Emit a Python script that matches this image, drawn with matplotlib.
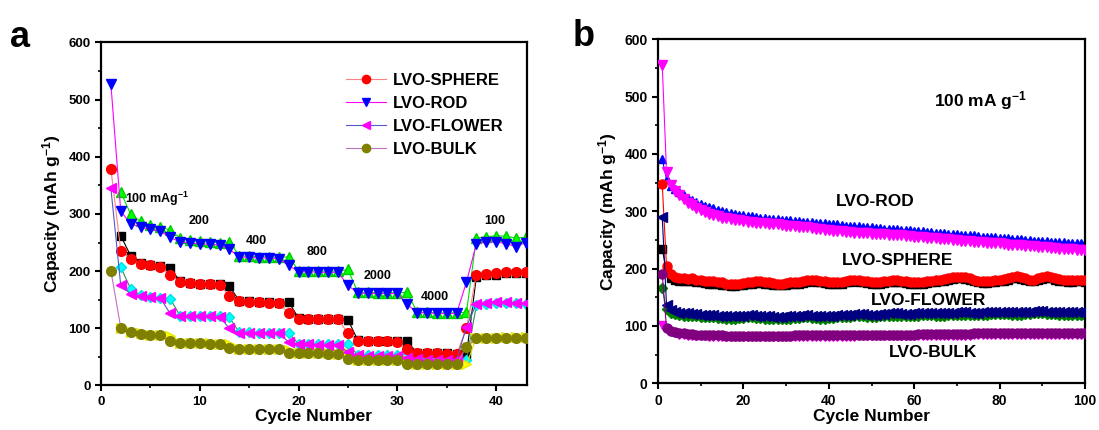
import numpy as np
import matplotlib
matplotlib.use('Agg')
import matplotlib.pyplot as plt

plt.rcParams['font.family'] = ['Liberation Sans', 'DejaVu Sans']
plt.rcParams['font.weight'] = 'bold'
plt.rcParams['mathtext.fontset'] = 'custom'
plt.rcParams['mathtext.rm'] = 'Liberation Sans:bold'
plt.rcParams['mathtext.bf'] = 'Liberation Sans:bold'
plt.rcParams['mathtext.default'] = 'bf'

nan = np.nan

# ---- panel a : rate capability (cycles 1-43) ----
cyc_a = np.arange(1, 44)
sph_dis = [379, 236, 222, 213, 210, 208, 194, 181, 179, 178, 177, 176,
           157, 147, 146, 146, 145, 145, 126, 117, 117, 116, 116, 116,
           91, 78, 77, 77, 77, 76, 63, 57, 56, 56, 55, 55,
           100, 194, 195, 196, 199, 198, 198]
sph_chg = [nan, 262, 227, 215, 211, 209, 206, 182, 180, 178, 177, 177,
           174, 148, 147, 146, 146, 145, 146, 118, 117, 117, 116, 116,
           115, 79, 78, 77, 77, 77, 77, 57, 56, 56, 56, 55,
           54, 190, 193, 194, 196, 196, 196]
rod_dis = [527, 305, 283, 277, 273, 270, 259, 251, 249, 248, 247, 246,
           238, 225, 224, 223, 223, 222, 210, 199, 199, 198, 198, 198,
           175, 162, 161, 161, 161, 161, 142, 127, 127, 126, 126, 126,
           181, 248, 251, 251, 248, 243, 250]
rod_chg = [nan, 338, 300, 287, 281, 277, 272, 258, 254, 252, 251, 250,
           251, 227, 226, 225, 225, 224, 225, 201, 201, 200, 200, 200,
           203, 163, 163, 162, 162, 162, 163, 128, 128, 127, 127, 127,
           128, 258, 260, 262, 261, 258, 259]
flw_dis = [345, 175, 160, 157, 154, 153, 126, 121, 121, 121, 121, 120,
           100, 92, 92, 92, 91, 91, 76, 72, 72, 71, 71, 71,
           58, 53, 52, 52, 52, 52, 48, 46, 45, 45, 45, 45,
           103, 143, 145, 146, 146, 145, 144]
flw_chg = [nan, 207, 169, 158, 155, 153, 152, 122, 122, 121, 121, 121,
           119, 93, 93, 92, 92, 92, 92, 73, 73, 72, 72, 72,
           72, 54, 54, 53, 53, 53, 53, 46, 46, 45, 45, 45,
           45, 140, 143, 144, 145, 144, 142]
blk_dis = [201, 101, 93, 90, 89, 88, 78, 75, 74, 74, 73, 73,
           66, 64, 64, 63, 63, 63, 57, 56, 56, 56, 55, 55,
           47, 45, 44, 44, 44, 44, 38, 37, 37, 37, 37, 37,
           68, 83, 83, 83, 83, 83, 83]
blk_chg = [nan, 101, 94, 91, 89, 88, 87, 75, 74, 74, 74, 73,
           73, 64, 64, 64, 63, 63, 62, 56, 56, 56, 56, 55,
           56, 45, 45, 44, 44, 44, 45, 37, 37, 37, 37, 37,
           37, 83, 83, 83, 84, 84, 84]

rate_labels = ['100 mAg$^{-1}$', '200', '400', '800', '2000', '4000', '100']
rate_x = [2.4, 9.9, 15.7, 21.9, 28.0, 33.8, 39.9]
rate_y = [326, 287, 253, 233, 192, 154, 288]

# ---- panel b : cycling at 100 mA/g (cycles 1-100) ----
cyc_b = np.arange(1, 101)
rod_dis_b = [555, 369, 346, 336, 328, 321, 315, 311, 306, 302,
             299, 296, 293, 291, 289, 288, 286, 285, 284, 283,
             282, 281, 280, 279, 279, 278, 277, 277, 276, 275,
             275, 274, 273, 273, 272, 271, 270, 269, 268, 267,
             266, 266, 265, 264, 264, 263, 263, 262, 262, 261,
             261, 260, 260, 259, 259, 258, 258, 257, 257, 256,
             255, 255, 254, 253, 253, 252, 251, 251, 250, 250,
             249, 248, 248, 247, 247, 246, 245, 245, 244, 244,
             243, 242, 242, 241, 241, 240, 239, 239, 238, 238,
             237, 236, 236, 235, 235, 234, 234, 233, 233, 232]
rod_chg_b = [391, 356, 345, 339, 333, 328, 324, 320, 316, 313,
             310, 307, 305, 303, 301, 299, 297, 296, 294, 293,
             292, 291, 290, 289, 288, 287, 287, 286, 285, 285,
             284, 283, 283, 282, 281, 281, 280, 279, 279, 278,
             277, 277, 276, 275, 275, 274, 274, 273, 273, 272,
             271, 271, 270, 270, 269, 269, 268, 267, 267, 266,
             265, 265, 264, 264, 263, 262, 262, 261, 261, 260,
             259, 259, 258, 258, 257, 256, 256, 255, 255, 254,
             253, 253, 252, 252, 251, 250, 250, 249, 249, 248,
             248, 247, 247, 246, 246, 245, 245, 245, 244, 244]
sph_dis_b = [347, 204, 190, 186, 184, 183, 182, 183, 181, 180,
             179, 178, 178, 177, 176, 174, 173, 173, 174, 175,
             176, 177, 178, 178, 177, 176, 175, 174, 174, 175,
             176, 176, 177, 178, 180, 181, 180, 179, 178, 177,
             176, 176, 177, 179, 180, 181, 180, 179, 178, 177,
             177, 177, 178, 179, 180, 180, 179, 178, 177, 176,
             176, 177, 178, 179, 180, 181, 182, 184, 185, 186,
             186, 185, 183, 181, 179, 178, 178, 179, 180, 181,
             182, 184, 186, 187, 185, 183, 181, 181, 183, 185,
             187, 186, 184, 182, 181, 180, 180, 181, 181, 180]
sph_chg_b = [234, 196, 184, 181, 179, 178, 178, 179, 177, 176,
             175, 174, 174, 173, 172, 171, 170, 170, 171, 172,
             173, 174, 175, 175, 174, 173, 172, 171, 171, 172,
             173, 173, 174, 175, 177, 178, 177, 176, 175, 174,
             173, 173, 174, 176, 177, 178, 177, 176, 175, 174,
             174, 174, 175, 176, 177, 177, 176, 175, 174, 173,
             173, 174, 175, 176, 177, 178, 179, 181, 182, 183,
             183, 182, 180, 178, 176, 175, 175, 176, 177, 178,
             179, 181, 183, 184, 182, 180, 178, 178, 180, 182,
             184, 183, 181, 179, 178, 177, 177, 178, 178, 177]
flw_dis_b = [290, 137, 128, 125, 123, 122, 122, 121, 121, 120,
             120, 119, 119, 118, 118, 117, 117, 117, 118, 118,
             119, 119, 118, 118, 117, 117, 116, 116, 116, 117,
             117, 118, 118, 119, 119, 118, 118, 117, 117, 118,
             118, 119, 119, 120, 120, 121, 121, 121, 120, 120,
             120, 121, 121, 122, 122, 122, 121, 121, 121, 122,
             122, 123, 123, 123, 122, 122, 122, 123, 123, 124,
             124, 124, 123, 123, 123, 124, 124, 125, 125, 125,
             125, 125, 124, 124, 124, 125, 125, 126, 126, 126,
             125, 125, 125, 124, 124, 124, 124, 124, 124, 124]
flw_chg_b = [166, 129, 123, 121, 119, 118, 118, 117, 117, 116,
             116, 115, 115, 114, 114, 113, 113, 113, 114, 114,
             115, 115, 114, 114, 113, 113, 112, 112, 112, 113,
             113, 114, 114, 115, 115, 114, 114, 113, 113, 114,
             114, 115, 115, 116, 116, 117, 117, 117, 116, 116,
             116, 117, 117, 118, 118, 118, 117, 117, 117, 118,
             118, 119, 119, 119, 118, 118, 118, 119, 119, 120,
             120, 120, 119, 119, 119, 120, 120, 121, 121, 121,
             121, 121, 120, 120, 120, 121, 121, 122, 122, 122,
             121, 121, 121, 120, 120, 120, 120, 120, 120, 120]
blk_dis_b = [191, 96, 92, 90, 88, 87, 86, 86, 85, 85,
             85, 84, 84, 84, 84, 83, 83, 83, 83, 83,
             83, 83, 83, 83, 83, 83, 83, 83, 83, 83,
             83, 84, 84, 84, 84, 84, 84, 84, 84, 84,
             84, 84, 84, 84, 84, 84, 85, 85, 85, 85,
             85, 85, 85, 85, 85, 85, 85, 85, 85, 85,
             86, 86, 86, 86, 86, 86, 86, 86, 86, 86,
             86, 86, 86, 87, 87, 87, 87, 87, 87, 87,
             87, 87, 87, 87, 87, 87, 87, 87, 87, 87,
             87, 87, 87, 87, 87, 87, 87, 87, 87, 87]
blk_chg_b = [101, 94, 89, 87, 85, 84, 83, 83, 82, 82,
             82, 81, 81, 81, 81, 80, 80, 80, 80, 80,
             80, 80, 80, 80, 80, 80, 80, 80, 80, 80,
             80, 81, 81, 81, 81, 81, 81, 81, 81, 81,
             81, 81, 81, 81, 81, 81, 82, 82, 82, 82,
             82, 82, 82, 82, 82, 82, 82, 82, 82, 82,
             83, 83, 83, 83, 83, 83, 83, 83, 83, 83,
             83, 83, 83, 84, 84, 84, 84, 84, 84, 84,
             84, 84, 84, 84, 84, 84, 84, 84, 84, 84,
             84, 84, 84, 84, 84, 84, 84, 84, 84, 84]

names = ['LVO-SPHERE', 'LVO-ROD', 'LVO-FLOWER', 'LVO-BULK']
name_x = [56.2, 50.8, 63.3, 64.4]
name_y = [215, 317, 145, 53]

fig = plt.figure(figsize=(10.99, 4.30), dpi=100)
ax1 = fig.add_axes([0.0919, 0.1035, 0.3874, 0.7977])
ax2 = fig.add_axes([0.5987, 0.1086, 0.3886, 0.8000])

def style(ax, lsize):
    for s in ax.spines.values():
        s.set_linewidth(1.6)
    ax.tick_params(which='major', direction='out', length=4, width=1.5,
                   labelsize=lsize, top=False, right=False)
    ax.tick_params(which='minor', direction='out', length=2.5, width=1.2,
                   top=False, right=False)
    for lab in ax.get_xticklabels() + ax.get_yticklabels():
        lab.set_fontweight('bold')
    ax.set_xlabel('Cycle Number', fontsize=12.5, fontweight='bold', labelpad=1)
    ax.set_ylabel('Capacity (mAh g$^{-1}$)', fontsize=12.5, fontweight='bold')

# panel a: secondary (charge) series drawn behind
ms = 7
ax1.plot(cyc_a, sph_chg, '-s', color='black', ms=ms - 1, lw=0.8, zorder=2)
ax1.plot(cyc_a, rod_chg, '-^', color='#00dd00', mfc='#00ff00', mec='#00cc00', ms=ms, lw=0.8, zorder=2)
ax1.plot(cyc_a, flw_chg, '-D', color='#2e8b57', mfc='#00ffff', mec='#00e0e0', ms=ms - 1.5, lw=0.8, zorder=2)
ax1.plot(cyc_a, blk_chg, '->', color='#e0e000', mfc='#ffff00', mec='#e8e800', ms=ms, lw=0.8, zorder=2)

ax1.plot(cyc_a, sph_dis, '-o', color='#ff8080', mfc='red', mec='red', ms=ms, lw=0.8, zorder=3, label=names[0])
ax1.plot(cyc_a, rod_dis, '-v', color='#ff00ff', mfc='blue', mec='blue', ms=ms, lw=0.8, zorder=3, label=names[1])
ax1.plot(cyc_a, flw_dis, '-<', color='#5555cc', mfc='#ff00ff', mec='#ff00ff', ms=ms, lw=0.8, zorder=3, label=names[2])
ax1.plot(cyc_a, blk_dis, '-o', color='#c070c0', mfc='#808000', mec='#808000', ms=ms, lw=0.8, zorder=3, label=names[3])

for t, x, y in zip(rate_labels, rate_x, rate_y):
    ax1.text(x, y, t, fontsize=9, fontweight='bold',
             ha='left' if t.startswith('100 m') else 'center', va='center')

ax1.set_xlim(0, 43.1)
ax1.set_ylim(0, 600)
ax1.set_xticks([0, 10, 20, 30, 40])
ax1.set_xticks([5, 15, 25, 35], minor=True)
ax1.set_yticks(np.arange(0, 601, 100))
ax1.set_yticks(np.arange(50, 600, 100), minor=True)
style(ax1, 9.5)
ax1.legend(loc='upper left', bbox_to_anchor=(0.54, 0.955), frameon=False,
           fontsize=12, handlelength=2.4, handletextpad=0.4, labelspacing=0.48,
           markerscale=0.85)

# panel b
mb = 6
ax2.plot(cyc_b, rod_chg_b, '-^', color='blue', ms=mb, lw=0.8, zorder=2)
ax2.plot(cyc_b, rod_dis_b, '-v', color='#ff00ff', ms=mb + 0.5, lw=0.8, zorder=3)
ax2.plot(cyc_b, sph_chg_b, '-s', color='black', ms=mb - 0.5, lw=0.8, zorder=2)
ax2.plot(cyc_b, sph_dis_b, '-o', color='red', ms=mb + 0.5, lw=0.8, zorder=3)
ax2.plot(cyc_b, flw_chg_b, '-D', color='green', ms=mb - 1, lw=0.8, zorder=2)
ax2.plot(cyc_b, flw_dis_b, '-<', color='#000080', ms=mb + 0.5, lw=0.8, zorder=3)
ax2.plot(cyc_b, blk_chg_b, '-v', color='#ff00ff', ms=mb, lw=0.8, zorder=2)
ax2.plot(cyc_b, blk_dis_b, '-o', color='#800080', ms=mb + 0.5, lw=0.8, zorder=3)

for t, x, y in zip(names, name_x, name_y):
    ax2.text(x, y, t, fontsize=12.5, fontweight='bold', ha='center', va='center')
ax2.text(75.4, 494, '100 mA g$^{-1}$', fontsize=12.5, fontweight='bold',
         ha='center', va='center')

ax2.set_xlim(0, 100)
ax2.set_ylim(0, 600)
ax2.set_xticks(np.arange(0, 101, 20))
ax2.set_xticks(np.arange(10, 100, 20), minor=True)
ax2.set_yticks(np.arange(0, 601, 100))
ax2.set_yticks(np.arange(50, 600, 100), minor=True)
style(ax2, 10)

fig.text(0.018, 0.912, 'a', fontsize=26, fontweight='bold', ha='center', va='center')
fig.text(0.531, 0.914, 'b', fontsize=26, fontweight='bold', ha='center', va='center')

fig.savefig('out.png', dpi=100)
